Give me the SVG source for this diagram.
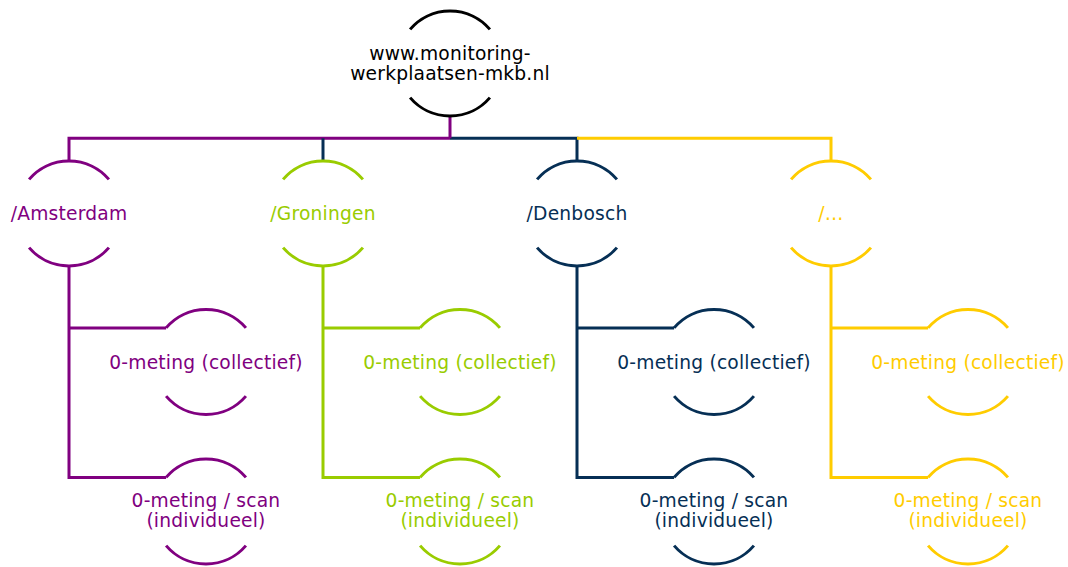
<svg xmlns="http://www.w3.org/2000/svg" xmlns:xlink="http://www.w3.org/1999/xlink" width="1068" height="567" viewBox="0 0 1068 567">
<style>
  text{font-family:"DejaVu Sans","Verdana",sans-serif;font-size:18.67px;text-anchor:middle;letter-spacing:0.2px}
  .ring{fill:none;stroke-width:3}
  .ln{fill:none;stroke-width:3;stroke-linejoin:miter;stroke-linecap:butt}
  .k{stroke:#000000;fill:#000000}
  .p{stroke:#800080;fill:#800080}
  .g{stroke:#99CC00;fill:#99CC00}
  .n{stroke:#062F55;fill:#062F55}
  .y{stroke:#FFCC00;fill:#FFCC00}
  text.k,text.p,text.g,text.n,text.y{stroke:none}
  path.k,path.p,path.g,path.n,path.y,use.k,use.p,use.g,use.n,use.y{fill:none}
</style>
<defs>
  <path id="ring" d="M-39.9,-34.1 A52.5,52.5 0 0 1 39.9,-34.1 M-39.9,34.1 A52.5,52.5 0 0 0 39.9,34.1"/>
</defs>
<g id="connectors" class="ln">
  <path class="p" d="M69,161 V138.3 H450"/>
  <path class="n" d="M450,138.3 H577 V161"/>
  <path class="y" d="M577,138.3 H831 V161"/>
  <path class="p" d="M450,115.5 V138.3"/>
  <path class="n" d="M323,138.3 V161"/>
  <path class="p" d="M69,266 V477.5 H166.1 M69,327.9 H166.1"/>
  <path class="g" d="M323,266 V477.5 H420.1 M323,327.9 H420.1"/>
  <path class="n" d="M577,266 V477.5 H674.1 M577,327.9 H674.1"/>
  <path class="y" d="M831,266 V477.5 H928.1 M831,327.9 H928.1"/>
</g>
<g id="root">
  <use xlink:href="#ring" class="ring k" transform="translate(450,63.5)"/>
  <text class="k" x="450" y="59.5">www.monitoring-</text>
  <text class="k" x="450" y="79.5">werkplaatsen-mkb.nl</text>
</g>
<g id="amsterdam">
  <use xlink:href="#ring" class="ring p" transform="translate(69,213.5)"/>
  <text class="p" x="69" y="219.5">/Amsterdam</text>
</g>
<g id="groningen">
  <use xlink:href="#ring" class="ring g" transform="translate(323,213.5)"/>
  <text class="g" x="323" y="219.5">/Groningen</text>
</g>
<g id="denbosch">
  <use xlink:href="#ring" class="ring n" transform="translate(577,213.5)"/>
  <text class="n" x="577" y="219.5">/Denbosch</text>
</g>
<g id="overig">
  <use xlink:href="#ring" class="ring y" transform="translate(831,213.5)"/>
  <text class="y" x="831" y="219.5">/…</text>
</g>
<g id="amsterdam-collectief">
  <use xlink:href="#ring" class="ring p" transform="translate(206,362)"/>
  <text class="p" x="206" y="368.5">0-meting (collectief)</text>
</g>
<g id="groningen-collectief">
  <use xlink:href="#ring" class="ring g" transform="translate(460,362)"/>
  <text class="g" x="460" y="368.5">0-meting (collectief)</text>
</g>
<g id="denbosch-collectief">
  <use xlink:href="#ring" class="ring n" transform="translate(714,362)"/>
  <text class="n" x="714" y="368.5">0-meting (collectief)</text>
</g>
<g id="overig-collectief">
  <use xlink:href="#ring" class="ring y" transform="translate(968,362)"/>
  <text class="y" x="968" y="368.5">0-meting (collectief)</text>
</g>
<g id="amsterdam-individueel">
  <use xlink:href="#ring" class="ring p" transform="translate(206,511.5)"/>
  <text class="p" x="206" y="507">0-meting / scan</text>
  <text class="p" x="206" y="527">(individueel)</text>
</g>
<g id="groningen-individueel">
  <use xlink:href="#ring" class="ring g" transform="translate(460,511.5)"/>
  <text class="g" x="460" y="507">0-meting / scan</text>
  <text class="g" x="460" y="527">(individueel)</text>
</g>
<g id="denbosch-individueel">
  <use xlink:href="#ring" class="ring n" transform="translate(714,511.5)"/>
  <text class="n" x="714" y="507">0-meting / scan</text>
  <text class="n" x="714" y="527">(individueel)</text>
</g>
<g id="overig-individueel">
  <use xlink:href="#ring" class="ring y" transform="translate(968,511.5)"/>
  <text class="y" x="968" y="507">0-meting / scan</text>
  <text class="y" x="968" y="527">(individueel)</text>
</g>
</svg>
